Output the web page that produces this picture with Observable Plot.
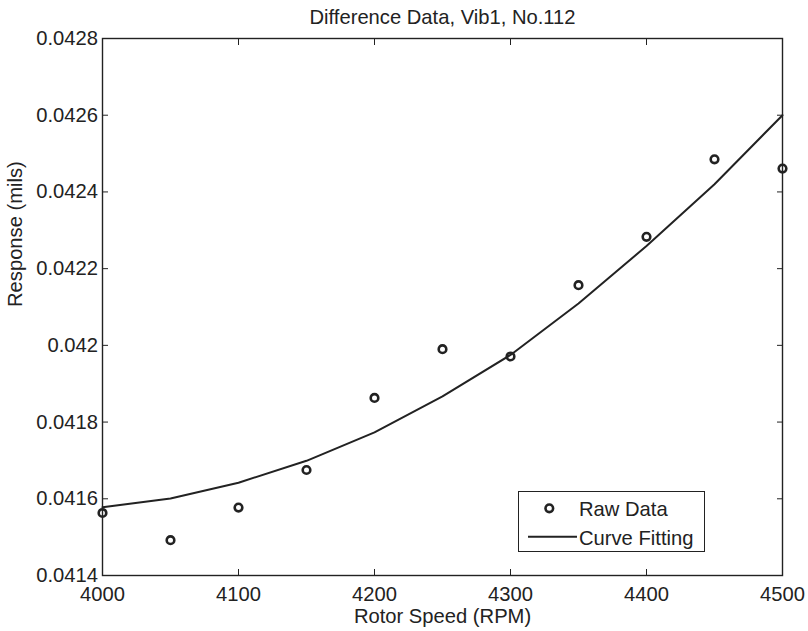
<!DOCTYPE html>
<html>
<head>
<meta charset="utf-8">
<script src="https://cdn.jsdelivr.net/npm/d3@7"></script>
<script src="https://cdn.jsdelivr.net/npm/@observablehq/plot@0.6"></script>
<style>
  html, body { margin: 0; padding: 0; background: #fff; }
  #wrap { position: relative; width: 808px; height: 631px; font-family: "Liberation Sans", Arial, sans-serif; }
  #legend { position: absolute; left: 518px; top: 491px; width: 187px; height: 61px; border: 1.3px solid #222; background: #fff; box-sizing: border-box; color: #222; }
  #legend svg { position: absolute; left: -1px; top: -1px; overflow: visible; }
</style>
</head>
<body>
<div id="wrap"></div>
<script>
const speeds = [4000, 4050, 4100, 4150, 4200, 4250, 4300, 4350, 4400, 4450, 4500];
const rawResponse = [0.041563, 0.041492, 0.041577, 0.041675, 0.041863, 0.041990, 0.041971, 0.042157, 0.042283, 0.042485, 0.042461];
const fitResponse = [0.041578, 0.041601, 0.041642, 0.041699, 0.041773, 0.041867, 0.041975, 0.042109, 0.042259, 0.042420, 0.042600];
const xTicks = [4000, 4100, 4200, 4300, 4400, 4500];
const yTicks = [0.0414, 0.0416, 0.0418, 0.042, 0.0422, 0.0424, 0.0426, 0.0428];
const yTickLabels = ["0.0414", "0.0416", "0.0418", "0.042", "0.0422", "0.0424", "0.0426", "0.0428"];
const title = "Difference Data, Vib1, No.112";
const xLabel = "Rotor Speed (RPM)";
const yLabel = "Response (mils)";
const seriesNames = ["Raw Data", "Curve Fitting"];

const raw = speeds.map((s, i) => ({speed: s, value: rawResponse[i]}));
const fit = speeds.map((s, i) => ({speed: s, value: fitResponse[i]}));
const ink = "#222";
const fs = 20.2;

const chart = Plot.plot({
  width: 808,
  height: 631,
  marginLeft: 102,
  marginRight: 26,
  marginTop: 38,
  marginBottom: 56,
  style: {fontFamily: "Liberation Sans, Arial, sans-serif", fontSize: fs + "px", color: ink, background: "#fff", overflow: "visible"},
  x: {domain: [4000, 4500], ticks: xTicks},
  y: {domain: [0.0414, 0.0428], ticks: yTicks},
  marks: [
    Plot.frame({stroke: ink, strokeWidth: 1.4}),
    Plot.axisX(xTicks, {anchor: "bottom", tickSize: -6, tickPadding: 17, stroke: ink, fill: ink, label: null, fontSize: fs,
      tickFormat: (d) => String(d)}),
    Plot.axisX(xTicks, {anchor: "top", tickSize: -6, text: null, stroke: ink, label: null}),
    Plot.axisY(yTicks, {anchor: "left", tickSize: -6, tickPadding: 10.5, stroke: ink, fill: ink, label: null, fontSize: fs,
      tickFormat: (d) => yTickLabels[yTicks.indexOf(d)]}),
    Plot.axisY(yTicks, {anchor: "right", tickSize: -6, text: null, stroke: ink, label: null}),
    Plot.line(fit, {x: "speed", y: "value", stroke: ink, strokeWidth: 2}),
    Plot.dot(raw, {x: "speed", y: "value", r: 3.8, stroke: ink, strokeWidth: 2.6, fill: "none"}),
    Plot.text([title], {frameAnchor: "top", dy: -28.5, fontSize: fs, fill: ink}),
    Plot.text([xLabel], {frameAnchor: "bottom", dy: 47.5, fontSize: fs, fill: ink}),
    Plot.text([yLabel], {frameAnchor: "left", dx: -87, rotate: -90, fontSize: fs, fill: ink})
  ]
});

const wrap = document.getElementById("wrap");
wrap.appendChild(chart);

const legend = document.createElement("div");
legend.id = "legend";
wrap.appendChild(legend);
const lsvg = d3.select(legend).append("svg").attr("width", 187).attr("height", 61);
lsvg.append("circle").attr("cx", 31.3).attr("cy", 17.3).attr("r", 3.8)
  .attr("fill", "none").attr("stroke", ink).attr("stroke-width", 2.6);
lsvg.append("line").attr("x1", 10).attr("x2", 59).attr("y1", 45.7).attr("y2", 45.7)
  .attr("stroke", ink).attr("stroke-width", 2);
lsvg.append("text").attr("x", 61).attr("y", 25).attr("font-size", fs).attr("fill", ink)
  .attr("font-family", "Liberation Sans, Arial, sans-serif").text(seriesNames[0]);
lsvg.append("text").attr("x", 61).attr("y", 54).attr("font-size", fs).attr("fill", ink)
  .attr("font-family", "Liberation Sans, Arial, sans-serif").text(seriesNames[1]);
</script>
</body>
</html>
